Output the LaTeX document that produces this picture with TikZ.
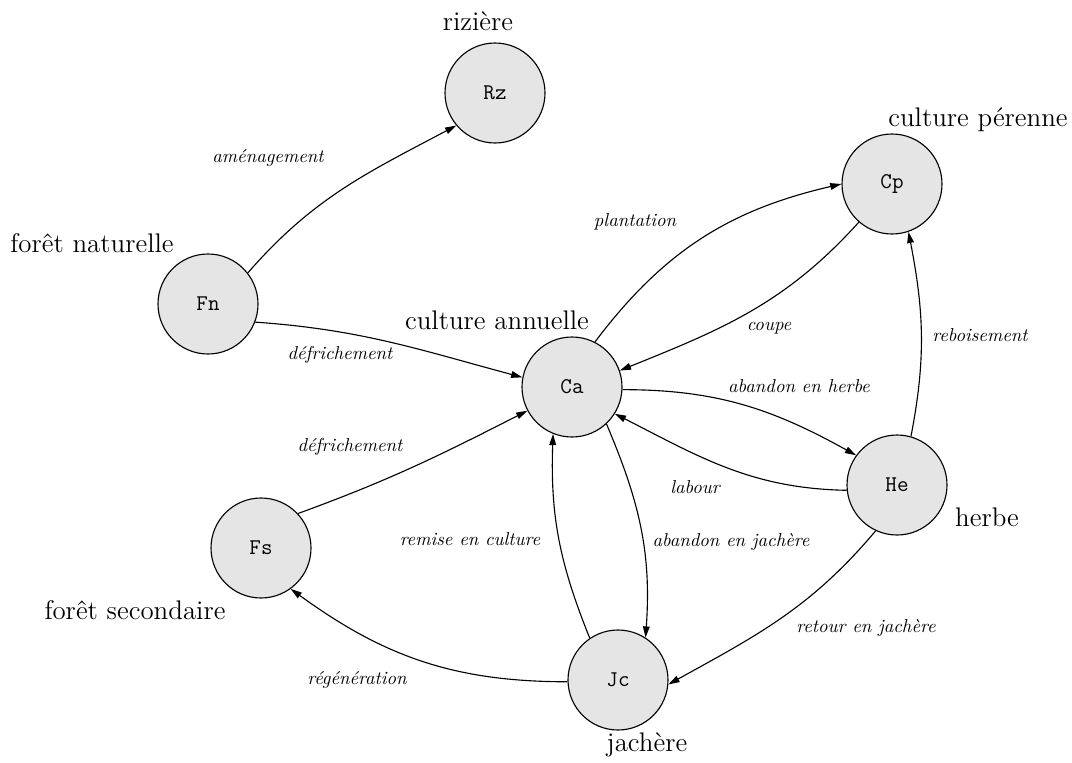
\documentclass[tikz,border=0pt]{standalone}
\usepackage{fontspec}
\usepackage{tikz}
\usetikzlibrary{arrows.meta}

\begin{document}
\begin{tikzpicture}[x=0.535pt,y=-0.535pt,
  state/.style={circle,draw,line width=0.6pt,fill=gray!20,minimum size=53.5pt,inner sep=0pt,font=\large\ttfamily},
  place/.style={font=\Large},
  trans/.style={font=\itshape},
  every edge/.style={draw,-{Triangle[length=6pt,width=3.6pt]},line width=0.6pt}]
  \useasboundingbox (0,0) rectangle (1072,762);

  \node[state] (Rz) at (495,93) {Rz};
  \node[state] (Cp) at (892,184) {Cp};
  \node[state] (Fn) at (208,304) {Fn};
  \node[state] (Ca) at (572,387) {Ca};
  \node[state] (He) at (897,485) {He};
  \node[state] (Fs) at (261,548) {Fs};
  \node[state] (Jc) at (618,680) {Jc};

  % names of the places
  \node[place] (RzName) at (478,21) {rizière};
  \node[place] (CpName) at (978,120) {culture pérenne};
  \node[place] (FnName) at (92,243) {forêt naturelle};
  \node[place] (CaName) at (497,320) {culture annuelle};
  \node[place] (HeName) at (987,517) {herbe};
  \node[place] (FsName) at (135,610) {forêt secondaire};
  \node[place] (JcName) at (647,745) {jachère};

  \draw (Fn.38) edge[out=49,in=208] (Rz.220)
        (Fn.339) edge[out=-4,in=165] (Ca.169)
        (Fs.43) edge[out=20,in=207] (Ca.208)
        (Ca.63) edge[out=53,in=193] (Cp.180)
        (Cp.229) edge[out=228,in=22] (Ca.19)
        (Ca.357) edge[out=0,in=151] (He.144)
        (He.186) edge[out=179,in=333] (Ca.328)
        (He.74) edge[out=79,in=281] (Cp.289)
        (Ca.313) edge[out=293,in=86] (Jc.57)
        (Jc.124) edge[out=112,in=268] (Ca.248)
        (Jc.182) edge[out=180,in=324] (Fs.306)
        (He.245) edge[out=230,in=29] (Jc.355);

  % transitions
  \node[trans] (tAm) at (268,158) {aménagement};
  \node[trans] (tDf1) at (340,355) {défrichement};
  \node[trans] (tDf2) at (350,447) {défrichement};
  \node[trans] (tPl) at (635,222) {plantation};
  \node[trans] (tCo) at (769,328) {coupe};
  \node[trans] (tAh) at (799,386) {abandon en herbe};
  \node[trans] (tLa) at (695,487) {labour};
  \node[trans] (tRb) at (980,335) {reboisement};
  \node[trans] (tAj) at (731,542) {abandon en jachère};
  \node[trans] (tRc) at (470,539) {remise en culture};
  \node[trans] (tRg) at (357,680) {régénération};
  \node[trans] (tRj) at (866,628) {retour en jachère};
\end{tikzpicture}
\end{document}
